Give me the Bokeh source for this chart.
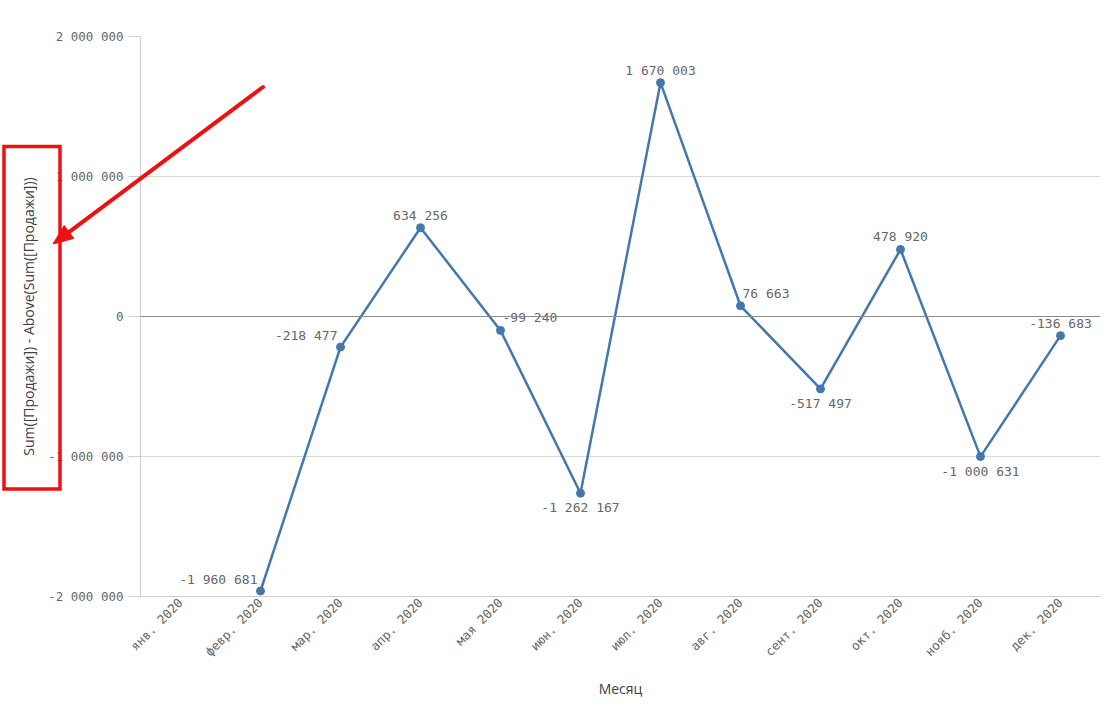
import math
from urllib.parse import quote
from bokeh.plotting import figure
from bokeh.models import (FactorRange, Range1d, FixedTicker, Span, ColumnDataSource,
                          InlineStyleSheet)
from bokeh.core.properties import value
from bokeh.embed import file_html
from bokeh.resources import INLINE

# ---- data ----
months = ["янв. 2020", "февр. 2020", "мар. 2020", "апр. 2020", "мая 2020", "июн. 2020",
          "июл. 2020", "авг. 2020", "сент. 2020", "окт. 2020", "нояб. 2020", "дек. 2020"]
diff = [float("nan"), -1960681, -218477, 634256, -99240, -1262167,
        1670003, 76663, -517497, 478920, -1000631, -136683]
y_ticks = [-2000000, -1000000, 0, 1000000, 2000000]
label_place = [None, "above-left", "above-left", "above", "above-right", "below",
               "above", "above-right", "below", "above", "below", "above"]
y_title = "Sum([Продажи]) - Above(Sum([Продажи]))"
x_title = "Месяц"


def fmt(v):
    return f"{int(v):,}".replace(",", " ")


W, H = 1101, 702
LINE = "#4477aa"
GRID = "#d9d9d9"
TXT = "#666666"
MONO = "DejaVu Sans Mono"
SANS = "Open Sans"
RED = "#ee1111"

p = figure(x_range=FactorRange(*months), y_range=Range1d(-2000000, 2000000),
           width=W, height=H, output_backend="svg", toolbar_location=None,
           min_border_left=140, min_border_right=1, min_border_top=36,
           min_border_bottom=106)
p.outline_line_color = None
p.background_fill_color = "white"
p.border_fill_color = "white"

# grid
p.xgrid.visible = False
p.ygrid.ticker = FixedTicker(ticks=y_ticks)
p.ygrid.grid_line_color = GRID
p.add_layout(Span(location=0, dimension="width", line_color="#8c8c8c", line_width=1))

# y axis
ya = p.yaxis[0]
ya.ticker = FixedTicker(ticks=y_ticks)
ya.major_label_overrides = {t: fmt(t) for t in y_ticks}
ya.minor_tick_line_color = None
ya.major_tick_in = 0
ya.major_tick_out = 12
ya.major_tick_line_color = "#cccccc"
ya.axis_line_color = "#cccccc"
ya.major_label_text_font = MONO
ya.major_label_text_font_size = "12.5px"
ya.major_label_text_color = TXT
ya.major_label_standoff = 5
ya.axis_label = y_title
ya.axis_label_text_font = SANS
ya.axis_label_text_font_size = "14px"
ya.axis_label_text_font_style = "normal"
ya.axis_label_text_color = "#404040"
ya.axis_label_standoff = 7

# x axis
xa = p.xaxis[0]
xa.major_label_orientation = math.pi / 4
xa.major_tick_line_color = None
xa.major_tick_out = 0
xa.major_tick_in = 0
xa.axis_line_color = "#cccccc"
xa.major_label_text_font = MONO
xa.major_label_text_font_size = "12.5px"
xa.major_label_text_color = TXT
xa.major_label_standoff = 4
xa.axis_label = x_title
xa.axis_label_text_font = SANS
xa.axis_label_text_font_size = "14px"
xa.axis_label_text_font_style = "normal"
xa.axis_label_text_color = "#404040"
xa.axis_label_standoff = 12

# line + points
src = ColumnDataSource(dict(m=months, v=diff))
p.line("m", "v", source=src, line_color=LINE, line_width=2.5)
p.scatter("m", "v", source=src, size=8, fill_color=LINE, line_color=LINE)

# value labels
place_map = {
    "above": ("center", "bottom", 0, -5),
    "below": ("center", "top", 0, 7),
    "above-left": ("right", "bottom", -3, -4),
    "above-right": ("left", "bottom", 2, -5),
}
lm, lv, lt, la, lb, lx, ly = [], [], [], [], [], [], []
for m, v, pl in zip(months, diff, label_place):
    if pl is None or v != v:
        continue
    a, b, ox, oy = place_map[pl]
    lm.append(m); lv.append(v); lt.append(fmt(v))
    la.append(a); lb.append(b); lx.append(ox); ly.append(oy)
lsrc = ColumnDataSource(dict(m=lm, v=lv, t=lt, a=la, b=lb, ox=lx, oy=ly))
p.text("m", "v", text="t", source=lsrc, text_align="a", text_baseline="b",
       x_offset="ox", y_offset="oy", text_font=value(MONO), text_font_size="13px",
       text_color=TXT)

# ---- red highlight (box round the y-axis title + arrow), drawn as an overlay ----
# Bokeh clips annotations to the plot frame, so this decoration is layered on top
sx, sy, tx, ty = 263.0, 87.0, 53.0, 244.0
L = math.hypot(tx - sx, ty - sy)
ux, uy = (tx - sx) / L, (ty - sy) / L
nx, ny = -uy, ux
head_len, head_half = 20.0, 8.0
bx, by = tx - ux * head_len, ty - uy * head_len
ex, ey = tx - ux * (head_len - 3), ty - uy * (head_len - 3)
head_pts = " ".join(f"{x:.1f},{y:.1f}" for x, y in
                    [(tx, ty), (bx + nx * head_half, by + ny * head_half),
                     (bx - nx * head_half, by - ny * head_half)])
svg = (f'<svg xmlns="http://www.w3.org/2000/svg" width="{W}" height="{H}">'
       f'<rect x="4" y="146.5" width="56" height="342.5" fill="none" '
       f'stroke="{RED}" stroke-width="3.5"/>'
       f'<line x1="{sx}" y1="{sy}" x2="{ex:.1f}" y2="{ey:.1f}" stroke="{RED}" '
       f'stroke-width="4" stroke-linecap="round"/>'
       f'<polygon points="{head_pts}" fill="{RED}" stroke="{RED}" stroke-width="1"/>'
       f'</svg>')
css = (":host { position: relative; }\n"
       ":host::after { content: ''; position: absolute; left: 0; top: 0; "
       f"width: {W}px; height: {H}px; pointer-events: none; z-index: 10; "
       "background-repeat: no-repeat; "
       f"background-image: url(\"data:image/svg+xml,{quote(svg)}\"); }}")
p.stylesheets = [InlineStyleSheet(css=css)]

open("out.html", "w").write(file_html(p, INLINE))
